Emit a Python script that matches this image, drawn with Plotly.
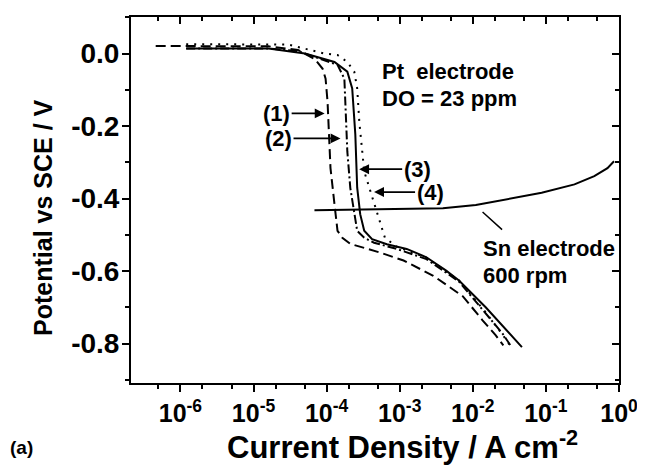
import numpy as np
import plotly.graph_objects as go

# ---- data (current density in A cm^-2, potential in V vs SCE) ----
# (1) dashed
c1_i = [4.59e-7, 1.60e-5, 4.06e-5, 6.89e-5, 8.83e-5, 9.68e-5, 1.03e-4, 1.13e-4, 1.28e-4, 1.41e-4,
        1.64e-4, 2.11e-4, 5.37e-4, 1.13e-3, 2.88e-3, 7.33e-3, 1.36e-2, 2.05e-2, 2.62e-2]
c1_e = [0.021, 0.020, 0.010, -0.015, -0.042, -0.069, -0.133, -0.316, -0.415, -0.489,
        -0.508, -0.525, -0.549, -0.571, -0.613, -0.670, -0.736, -0.777, -0.805]
# (2) dash-dot
c2_i = [1.20e-6, 1.60e-5, 4.06e-5, 7.55e-5, 1.41e-4, 1.75e-4, 1.81e-4, 1.92e-4, 2.11e-4, 2.39e-4,
        2.62e-4, 3.27e-4, 4.46e-4, 9.10e-4, 2.32e-3, 6.47e-3, 1.50e-2, 2.54e-2, 3.27e-2]
c2_e = [0.014, 0.014, 0.007, -0.012, -0.031, -0.069, -0.133, -0.270, -0.371, -0.443,
        -0.489, -0.508, -0.522, -0.539, -0.567, -0.629, -0.717, -0.772, -0.805]
# (3) solid
c3_i = [1.20e-6, 1.60e-5, 5.05e-5, 1.28e-4, 1.92e-4, 2.24e-4, 2.47e-4, 2.62e-4, 2.88e-4, 3.27e-4,
        4.19e-4, 6.67e-4, 1.245e-3, 2.32e-3, 4.32e-3, 6.47e-3, 1.50e-2, 3.15e-2, 4.70e-2]
c3_e = [0.014, 0.014, 0.0, -0.023, -0.050, -0.096, -0.223, -0.370, -0.443, -0.489,
        -0.512, -0.526, -0.539, -0.562, -0.599, -0.626, -0.700, -0.772, -0.810]
# (4) dotted
c4_i = [1.20e-6, 2.97e-5, 9.40e-5, 1.41e-4, 1.92e-4, 2.39e-4, 2.62e-4, 2.80e-4, 3.27e-4, 3.94e-4,
        4.89e-4, 5.71e-4, 6.27e-4, 9.10e-4, 2.32e-3, 6.47e-3, 1.50e-2, 2.54e-2, 3.27e-2]
c4_e = [0.026, 0.025, 0.0, -0.004, -0.023, -0.050, -0.096, -0.188, -0.325, -0.379,
        -0.443, -0.481, -0.508, -0.533, -0.563, -0.626, -0.714, -0.775, -0.807]
# Sn electrode, 600 rpm
sn_i = [6.82e-5, 4.89e-4, 3.90e-3, 1.10e-2, 3.06e-2, 8.75e-2, 0.246, 0.459, 0.695, 0.855]
sn_e = [-0.432, -0.430, -0.427, -0.418, -0.402, -0.384, -0.361, -0.338, -0.316, -0.297]

x_tickvals = [1e-6, 1e-5, 1e-4, 1e-3, 1e-2, 1e-1, 1e0]
x_ticktext = ["10<sup>-6</sup>", "10<sup>-5</sup>", "10<sup>-4</sup>", "10<sup>-3</sup>",
              "10<sup>-2</sup>", "10<sup>-1</sup>", "10<sup>0</sup>"]
y_tickvals = [0.0, -0.2, -0.4, -0.6, -0.8]
y_ticktext = ["0.0", "-0.2", "-0.4", "-0.6", "-0.8"]

FONT = "Liberation Sans, Arial, sans-serif"
X_RANGE = [-6.676, 0.0]
Y_RANGE = [-0.909, 0.101]

# page body has an 8px margin: the figure is drawn 8px right/down of the window corner
W, H = 637, 458
ML, MR, MT, MB = 123, 20, 7, 83
PW, PH = W - ML - MR, H - MT - MB

fig = go.Figure()
lw = 2
fig.add_trace(go.Scatter(x=c1_i, y=c1_e, mode="lines", line=dict(color="black", width=lw, dash="10px,5px"), showlegend=False))
fig.add_trace(go.Scatter(x=c2_i, y=c2_e, mode="lines", line=dict(color="black", width=lw, dash="9px,3px,2px,3px"), showlegend=False))
fig.add_trace(go.Scatter(x=c3_i, y=c3_e, mode="lines", line=dict(color="black", width=lw), showlegend=False))
fig.add_trace(go.Scatter(x=c4_i, y=c4_e, mode="lines", line=dict(color="black", width=lw, dash="2px,6px"), showlegend=False))
fig.add_trace(go.Scatter(x=sn_i, y=sn_e, mode="lines", line=dict(color="black", width=lw), showlegend=False))
# dummy trace to activate mirrored tick axes
fig.add_trace(go.Scatter(x=[], y=[], xaxis="x2", yaxis="y2", showlegend=False))

tick_common = dict(showgrid=False, zeroline=False, tickcolor="black", tickwidth=2)

fig.update_layout(
    width=W, height=H,
    paper_bgcolor="white", plot_bgcolor="white",
    margin=dict(l=ML, r=MR, t=MT, b=MB),
    font=dict(family=FONT, color="black"),
    xaxis=dict(type="log", range=X_RANGE, showline=True, mirror=True, linecolor="black", linewidth=2,
               tickvals=x_tickvals, ticktext=x_ticktext, ticks="outside", ticklen=7,
               tickfont=dict(size=25, family=FONT, weight="bold"),
               minor=dict(ticks="outside", ticklen=4, tickwidth=1.5, tickcolor="black"),
               **tick_common),
    yaxis=dict(range=Y_RANGE, showline=True, mirror=True, linecolor="black", linewidth=2,
               tickvals=y_tickvals, ticktext=y_ticktext, ticks="outside", ticklen=7,
               ticklabelstandoff=-3,
               tickfont=dict(size=28, family=FONT, weight="bold"),
               minor=dict(ticks="outside", ticklen=4, tickwidth=1.5, tickcolor="black", dtick=0.1, tick0=0),
               **tick_common),
    xaxis2=dict(type="log", range=X_RANGE, overlaying="x", side="top", anchor="y",
                tickvals=x_tickvals, ticks="inside", ticklen=7, showticklabels=False, showline=False,
                minor=dict(ticks="inside", ticklen=4, tickwidth=1.5, tickcolor="black"),
                **tick_common),
    yaxis2=dict(range=Y_RANGE, overlaying="y", side="right", anchor="x",
                tickvals=y_tickvals, ticks="inside", ticklen=7, showticklabels=False, showline=False,
                minor=dict(ticks="inside", ticklen=4, tickwidth=1.5, tickcolor="black", dtick=0.1, tick0=0),
                **tick_common),
)

# axis titles as annotations (positioned like the reference)
fig.add_annotation(x=(398 - ML) / PW, y=0, xref="paper", yref="paper", yshift=-62,
                   xanchor="center", yanchor="middle", showarrow=False,
                   text="<b>Current Density / A cm<sup>-2</sup></b>",
                   font=dict(family=FONT, size=31, color="black"))
fig.add_annotation(x=0, y=1 - (209 - MT) / PH, xref="paper", yref="paper", xshift=-88,
                   xanchor="center", yanchor="middle", showarrow=False, textangle=-90,
                   text="<b>Potential vs SCE / V</b>",
                   font=dict(family=FONT, size=25, color="black"))

ann_font = dict(family=FONT, size=22, color="black")

def lx(v):
    return float(np.log10(v))

# numbered arrows: (label, tip current, tip potential, text x offset px)
labels = [("(1)", 9.4e-5, -0.165, -48), ("(2)", 1.55e-4, -0.234, -62),
          ("(3)", 2.79e-4, -0.319, 58), ("(4)", 4.46e-4, -0.382, 56)]
for txt, xi, ye, ax in labels:
    fig.add_annotation(x=lx(xi), y=ye, xref="x", yref="y", text=f"<b>{txt}</b>",
                       showarrow=True, ax=ax, ay=0, arrowhead=2, arrowsize=1.1,
                       arrowwidth=1.8, arrowcolor="black", font=ann_font, standoff=0)

fig.add_annotation(x=lx(5.4e-4), y=-0.050, xref="x", yref="y", xanchor="left", yanchor="middle",
                   text="<b>Pt  electrode</b>", showarrow=False, font=ann_font)
fig.add_annotation(x=lx(5.4e-4), y=-0.124, xref="x", yref="y", xanchor="left", yanchor="middle",
                   text="<b>DO = 23 ppm</b>", showarrow=False, font=ann_font)
fig.add_annotation(x=lx(1.29e-2), y=-0.539, xref="x", yref="y", xanchor="left", yanchor="middle",
                   text="<b>Sn electrode</b>", showarrow=False, font=ann_font)
fig.add_annotation(x=lx(1.29e-2), y=-0.613, xref="x", yref="y", xanchor="left", yanchor="middle",
                   text="<b>600 rpm</b>", showarrow=False, font=ann_font)
# pointer line to the Sn curve
fig.add_annotation(x=lx(1.36e-2), y=-0.437, xref="x", yref="y", text="", showarrow=True,
                   ax=21, ay=19, arrowhead=0, arrowwidth=1.5, arrowcolor="black")

fig.add_annotation(x=0, y=0, xref="paper", yref="paper", xanchor="left", yanchor="middle",
                   xshift=-ML, yshift=-64, text="<b>(a)</b>", showarrow=False,
                   font=dict(family=FONT, size=19, color="black"))

fig.write_html("out.html")
